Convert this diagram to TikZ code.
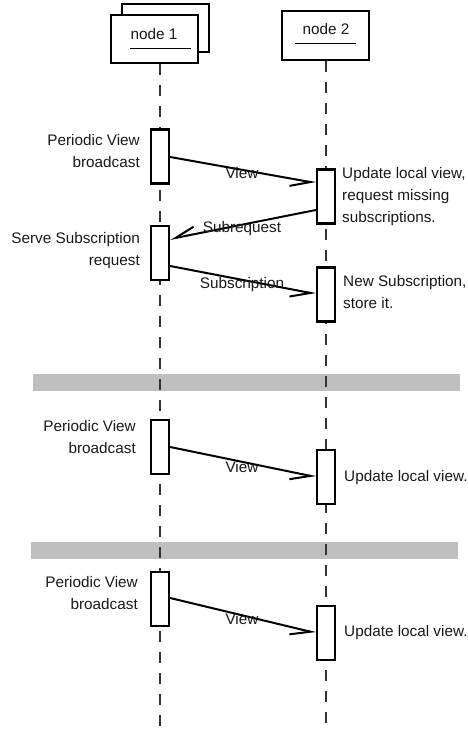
\documentclass[tikz,border=0pt]{standalone}
\usepackage{fontspec}
\setmainfont{Liberation Sans}
\usetikzlibrary{arrows.meta}
\begin{document}
\begin{tikzpicture}[x=1pt,y=-1pt,
  txt/.style={font=\fontsize{15.3}{22}\selectfont, inner sep=0pt, text=black!90},
  objbox/.style={draw, line width=2.2pt, fill=white, minimum width=87pt, minimum height=48pt, inner sep=0pt},
  actbox/.style={draw, line width=2.2pt, fill=white, minimum width=18pt, minimum height=54pt, inner sep=0pt},
  lifeline/.style={draw=black!80, line width=1.3pt, dash pattern=on 11pt off 10pt},
  msg/.style={line width=2pt, -{Straight Barb[right, length=20pt, width=15pt]}},
  bar/.style={fill=black!25, draw=none},
  uline/.style={line width=1pt}]
\useasboundingbox (0,0) rectangle (468,733);
% separator bars
\fill[bar] (33,374) rectangle (460,391);
\fill[bar] (31,542) rectangle (458,559);
% objects
\node[objbox] (n1back) at (165.5,28) {};
\node[objbox] (n1) at (154.5,39) {};
\node[objbox, minimum height=49pt] (n2) at (325.5,35.5) {};
\node[txt, anchor=base] (n1t) at (154,40) {node 1};
\node[txt, anchor=base] (n2t) at (326,35) {node 2};
\coordinate (u1a) at (130,49); \coordinate (u1b) at (191,49);
\coordinate (u2a) at (295,44); \coordinate (u2b) at (356,44);
\draw[uline] (u1a) -- (u1b);
\draw[uline] (u2a) -- (u2b);
% lifelines
\coordinate (l1end) at (160,727);
\coordinate (l2end) at (326,733);
\draw[lifeline] (l1end |- n1.south) -- (l1end);
\draw[lifeline] (l2end |- n2.south) -- (l2end);
% activation boxes
\node[actbox] (a1) at (160,156.5) {};
\node[actbox] (b1) at (326,196.5) {};
\node[actbox] (a2) at (160,253) {};
\node[actbox] (b2) at (326,294.5) {};
\node[actbox] (a3) at (160,447) {};
\node[actbox] (b3) at (326,477) {};
\node[actbox] (a4) at (160,599) {};
\node[actbox] (b4) at (326,633) {};
% messages
\draw[msg] (a1.east |- 0,157) -- (b1.west |- 0,183);
\draw[msg] (b1.west |- 0,210) -- (a2.east |- 0,239);
\draw[msg] (a2.east |- 0,266) -- (b2.west |- 0,294);
\draw[msg] (a3.east |- 0,447) -- (b3.west |- 0,477);
\draw[msg] (a4.east |- 0,598) -- (b4.west |- 0,633);
% message labels
\node[txt, anchor=base] (v1) at (242,178) {View};
\node[txt, anchor=base] (sr) at (242,232) {Subrequest};
\node[txt, anchor=base] (ss) at (242,288) {Subscription};
\node[txt, anchor=base] (v2) at (242,472) {View};
\node[txt, anchor=base] (v3) at (242,624) {View};
% left notes (base = last line)
\node[txt, anchor=base east, align=right] (p1) at (140,167) {Periodic View\\broadcast};
\node[txt, anchor=base east, align=right] (p2) at (140,265) {Serve Subscription\\request};
\node[txt, anchor=base east, align=right] (p3) at (136,453) {Periodic View\\broadcast};
\node[txt, anchor=base east, align=right] (p4) at (138,609) {Periodic View\\broadcast};
% right notes
\node[txt, anchor=base west, align=left] (r1) at (342,222) {Update local view,\\request missing\\subscriptions.};
\node[txt, anchor=base west, align=left] (r2) at (343,308) {New Subscription,\\store it.};
\node[txt, anchor=base west] (r3) at (344,481) {Update local view.};
\node[txt, anchor=base west] (r4) at (344,636) {Update local view.};
\end{tikzpicture}
\end{document}
